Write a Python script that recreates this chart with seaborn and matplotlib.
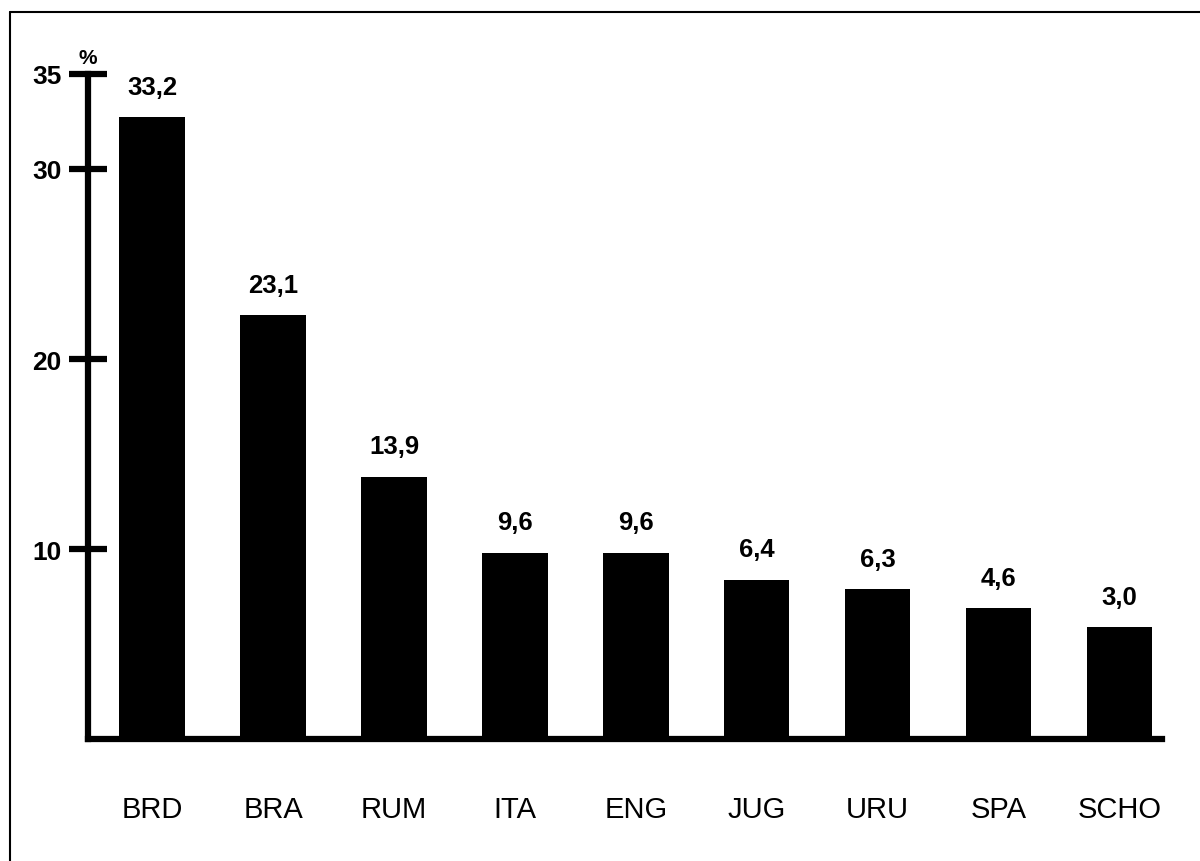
import matplotlib.pyplot as plt
import seaborn as sns
from matplotlib.lines import Line2D

# data
teams = ["BRD", "BRA", "RUM", "ITA", "ENG", "JUG", "URU", "SPA", "SCHO"]
shares = [33.2, 23.1, 13.9, 9.6, 9.6, 6.4, 6.3, 4.6, 3.0]          # printed values
bar_heights = [32.7, 22.3, 13.8, 9.8, 9.8, 8.4, 7.9, 6.9, 5.9]     # bar tops as drawn
y_ticks = [10, 20, 30, 35]

sns.set_theme(style="white")
plt.rcParams["font.family"] = ["Liberation Sans", "DejaVu Sans"]

fig = plt.figure(figsize=(12, 8.62), dpi=100)
ax = fig.add_axes([0.0733, 0.1411, 0.895, 0.7722])

sns.barplot(x=teams, y=bar_heights, color="black", saturation=1,
            width=0.54, linewidth=0, ax=ax)

ax.set_xlim(-0.53, 8.35)
ax.set_ylim(0, 35)
ax.set_xlabel("")
ax.set_ylabel("")

# axes look
for side in ["top", "right"]:
    ax.spines[side].set_visible(False)
for side in ["left", "bottom"]:
    ax.spines[side].set_linewidth(4.5)
    ax.spines[side].set_color("black")

ax.set_yticks(y_ticks)
ax.set_yticklabels([str(t) for t in y_ticks], fontsize=19, fontweight="bold")
ax.tick_params(axis="y", left=True, direction="inout", length=28, width=4.5,
               pad=5, color="black", labelcolor="black")
ax.tick_params(axis="x", bottom=False, length=0, pad=40, labelsize=21,
               labelcolor="black")

# value labels above bars
for i, (h, s) in enumerate(zip(bar_heights, shares)):
    ax.annotate(f"{s:.1f}".replace(".", ","), (i, h), xytext=(0, 17),
                textcoords="offset points", ha="center", va="baseline",
                fontsize=18.5, fontweight="bold", color="black")

# unit on top of the y axis
ax.annotate("%", xy=(0, 1), xycoords="axes fraction", xytext=(0, 8),
            textcoords="offset points", ha="center", va="baseline",
            fontsize=15, fontweight="bold", color="black")

# frame of the scanned page
fx = 10 / 1200
fy = 1 - 13 / 862
fig.add_artist(Line2D([fx, fx], [0, fy], color="black", lw=1.5))
fig.add_artist(Line2D([fx, 1], [fy, fy], color="black", lw=1.5))

fig.savefig("out.png", dpi=100)
plt.close()
